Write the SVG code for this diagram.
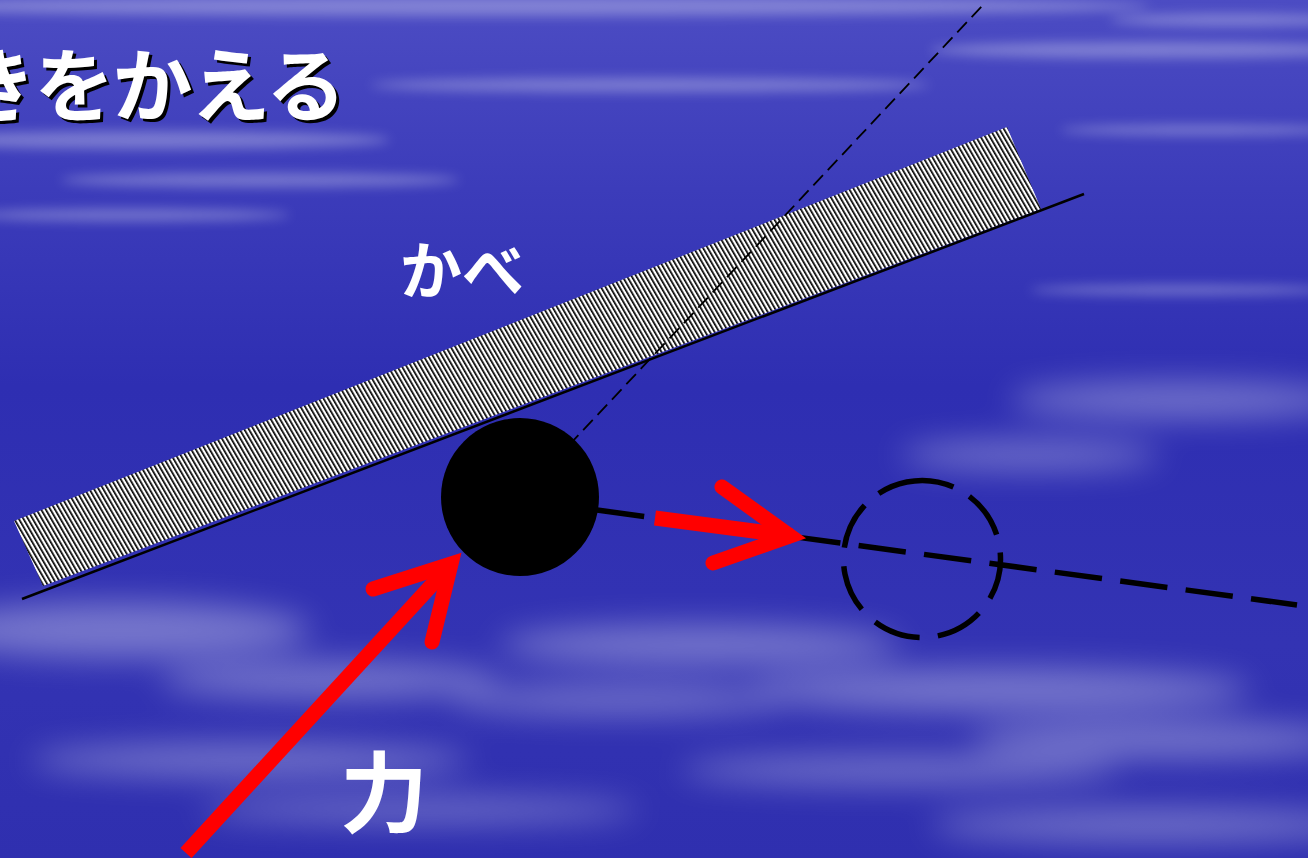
<svg xmlns="http://www.w3.org/2000/svg" width="1308" height="858" viewBox="0 0 1308 858">
<defs>
<linearGradient id="sky" x1="0" y1="0" x2="0" y2="1">
<stop offset="0" stop-color="#4c4cc3"/>
<stop offset="0.22" stop-color="#3c3cba"/>
<stop offset="0.45" stop-color="#2e2eb2"/>
<stop offset="0.75" stop-color="#3333b3"/>
<stop offset="1" stop-color="#2f2faf"/>
</linearGradient>
<filter id="blur" x="-50%" y="-50%" width="200%" height="200%">
<feGaussianBlur stdDeviation="16"/>
</filter>
<filter id="blur2" x="-50%" y="-50%" width="200%" height="200%">
<feGaussianBlur stdDeviation="6"/>
</filter>
<pattern id="hatch" width="4" height="4" patternUnits="userSpaceOnUse" patternTransform="rotate(-30)">
<rect width="4" height="4" fill="#ffffff"/>
<rect width="1.7" height="4" fill="#000000"/>
</pattern>
<style>
.txt{font-family:"Noto Sans CJK JP","Noto Sans",sans-serif;font-weight:700;fill:#ffffff}
.red{stroke:#ff0000;stroke-width:15;fill:none}
</style>
</defs>

<g id="background">
<rect width="1308" height="858" fill="url(#sky)"/>
<g fill="#ffffff" filter="url(#blur2)" opacity="0.3">
<ellipse cx="500" cy="6" rx="650" ry="10"/>
<ellipse cx="1150" cy="50" rx="220" ry="8"/>
<ellipse cx="150" cy="140" rx="240" ry="9"/>
<ellipse cx="260" cy="180" rx="200" ry="7"/>
<ellipse cx="130" cy="215" rx="160" ry="6"/>
<ellipse cx="650" cy="85" rx="280" ry="7"/>
<ellipse cx="1200" cy="130" rx="140" ry="5"/>
<ellipse cx="1180" cy="290" rx="150" ry="5"/>
<ellipse cx="1230" cy="20" rx="120" ry="6"/>
</g>
<g fill="#ffffff" filter="url(#blur)" opacity="0.33">
<ellipse cx="1180" cy="400" rx="170" ry="18"/>
<ellipse cx="1030" cy="455" rx="130" ry="14"/>
<ellipse cx="120" cy="630" rx="190" ry="28"/>
<ellipse cx="330" cy="680" rx="170" ry="18"/>
<ellipse cx="700" cy="645" rx="200" ry="20"/>
<ellipse cx="620" cy="700" rx="170" ry="14"/>
<ellipse cx="1000" cy="690" rx="250" ry="22"/>
<ellipse cx="1160" cy="740" rx="190" ry="18"/>
<ellipse cx="250" cy="760" rx="220" ry="16"/>
<ellipse cx="900" cy="770" rx="220" ry="14"/>
<ellipse cx="1150" cy="825" rx="220" ry="16"/>
<ellipse cx="420" cy="810" rx="220" ry="12"/>
</g>
</g>

<g id="wall">
<polygon points="14,521 43,586 1041,209 1007,127" fill="url(#hatch)"/>
<line x1="22" y1="599" x2="1084" y2="194" stroke="#000" stroke-width="2.5"/>
</g>

<g id="connectors">
<line id="normal" x1="540" y1="476" x2="983" y2="5" stroke="#000" stroke-width="1.8" stroke-dasharray="14 7"/>
<line id="path" x1="597" y1="510" x2="1297" y2="605" stroke="#000" stroke-width="5.5" stroke-dasharray="47.6 18.4"/>
</g>

<g id="ball">
<circle cx="520" cy="497" r="79" fill="#000"/>
</g>

<g id="ghost">
<circle cx="922" cy="559" r="78.5" fill="none" stroke="#000" stroke-width="5.5" stroke-dasharray="47.6 18.4" transform="rotate(-101.2 922 559)"/>
</g>

<g id="arrow-move">
<line class="red" x1="655" y1="518" x2="792" y2="536"/>
<polyline class="red" points="722,487 790,536 713,563" stroke-linecap="round" stroke-linejoin="miter"/>
</g>

<g id="arrow-force">
<line class="red" x1="186" y1="853" x2="452" y2="563"/>
<polyline class="red" points="373,589 451,564 432,642" stroke-linecap="round" stroke-linejoin="miter"/>
</g>

<g id="title">
<text x="347" y="118" font-size="80" letter-spacing="-2" text-anchor="end" class="txt" style="fill:#000">きをかえる</text>
<text x="344" y="115" font-size="80" letter-spacing="-2" text-anchor="end" class="txt">きをかえる</text>
</g>
<g id="label-wall">
<text x="400" y="294" font-size="62" class="txt">かべ</text>
</g>
<g id="label-force">
<text x="384" y="825" font-size="88" text-anchor="middle" class="txt">力</text>
</g>
</svg>
